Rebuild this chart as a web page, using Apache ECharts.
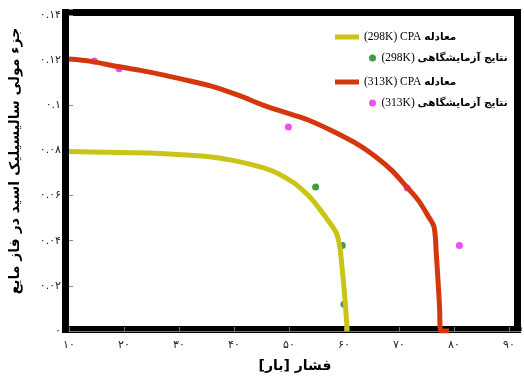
<!DOCTYPE html>
<html>
<head>
<meta charset="utf-8">
<script src="https://cdn.jsdelivr.net/npm/echarts@6/dist/echarts.min.js"></script>
<style>
  html, body { margin: 0; padding: 0; background: #fff; }
  #chart { width: 524px; height: 378px; }
</style>
</head>
<body>
<div id="chart"></div>
<script>
// Pressure [bar] vs. liquid-phase mole fraction of salicylic acid
const cpa298 = [
  [10, 0.0795], [16.8, 0.0792], [25.7, 0.0788], [34.7, 0.0774], [40, 0.0755],
  [45.4, 0.0723], [48, 0.0698], [50.8, 0.0658], [52.5, 0.0624], [54.3, 0.058],
  [56.7, 0.0504], [58.5, 0.044], [59.2, 0.038], [59.7, 0.027], [60.2, 0.0137], [60.6, 0]
];
const exp298 = [[54.85, 0.0638], [59.7, 0.0379], [60.0, 0.0118]];
const cpa313 = [
  [10, 0.1205], [14, 0.1195], [18.6, 0.1173], [23, 0.1155], [27.5, 0.1133],
  [32, 0.1108], [36.5, 0.1081], [41, 0.1043], [45.4, 0.1], [50, 0.0963],
  [53.5, 0.0935], [58, 0.0885], [62.8, 0.0823], [66, 0.0768], [68.7, 0.0712],
  [71, 0.065], [73.5, 0.058], [75.3, 0.051], [76.4, 0.046], [76.8, 0.034],
  [77.1, 0.0226], [77.4, 0.01], [77.6, 0], [79.1, 0]
];
const exp313 = [[14.6, 0.1196], [19.1, 0.1162], [49.9, 0.0904], [71.5, 0.0634], [81.0, 0.0379]];

const seriesNames = [
  '(298K) CPA معادله',
  '(298K) نتایج آزمایشگاهی',
  '(313K) CPA معادله',
  '(313K) نتایج آزمایشگاهی'
];
const xTicks = [10, 20, 30, 40, 50, 60, 70, 80, 90];
const yTicks = [0, 0.02, 0.04, 0.06, 0.08, 0.1, 0.12, 0.14];
const xTitle = 'فشار [بار]';
const yTitle = 'جزء مولی سالیسیلیک اسید در فاز مایع';

const FA_DIGITS = '۰۱۲۳۴۵۶۷۸۹';
function toFa(v) {
  return String(Number(v.toFixed(2))).replace(/[0-9]/g, d => FA_DIGITS[+d]);
}
function onTick(list, v) {
  return list.some(t => Math.abs(t - v) < 1e-9);
}
// Latin part in a serif face, Persian part in a bold face
function legendLabel(name) {
  const i = name.search(/[\u0600-\u06FF]/);
  return '{l|' + name.slice(0, i) + '}{p|' + name.slice(i) + '}';
}

const G = { left: 62, top: 9, right: 3, bottom: 46 };
const W = 524, H = 378;
const BAND = 7;

const C_YEL = '#c9c416', C_RED = '#d4370d', C_GRN = '#157f15', C_MAG = '#ee22ee';
const FONT = "'DejaVu Sans', sans-serif";
const legendText = {
  color: '#000', lineHeight: 16,
  rich: {
    l: { fontFamily: "'Liberation Serif', serif", fontSize: 11.5, color: '#000', lineHeight: 16 },
    p: { fontFamily: "'DejaVu Sans', sans-serif", fontWeight: 'bold', fontSize: 10.5, color: '#000', lineHeight: 16 }
  }
};
const titleStyle = { fontFamily: FONT, fontWeight: 'bold', fontSize: 14, color: '#000' };

const chart = echarts.init(document.getElementById('chart'), null, { renderer: 'canvas' });
chart.setOption({
  animation: false,
  backgroundColor: '#fff',
  grid: { left: G.left, top: G.top, right: G.right, bottom: G.bottom },
  graphic: [{
    type: 'rect', z: 0,
    shape: {
      x: G.left + BAND / 2, y: G.top + BAND / 2,
      width: W - G.left - G.right - BAND, height: H - G.top - G.bottom - BAND + 1
    },
    style: { fill: null, stroke: '#000', lineWidth: BAND }
  }],
  legend: [{
    data: [seriesNames[0], seriesNames[2]],
    orient: 'vertical', left: 330, top: 24,
    icon: 'rect', itemWidth: 24, itemHeight: 5, itemGap: 29,
    formatter: legendLabel, textStyle: legendText
  }, {
    data: [seriesNames[1], seriesNames[3]],
    orient: 'vertical', left: 364, top: 45,
    icon: 'circle', itemWidth: 8, itemHeight: 7, itemGap: 29,
    formatter: legendLabel, textStyle: legendText
  }],
  xAxis: {
    type: 'value', min: 10, max: 92.2, interval: 10, z: 1,
    name: xTitle, nameLocation: 'middle', nameGap: 28,
    nameTextStyle: titleStyle,
    splitLine: { show: false },
    axisLine: { lineStyle: { color: '#777', width: 1 } },
    axisTick: { inside: true, length: 4, lineStyle: { color: '#777' } },
    axisLabel: {
      margin: 9, fontSize: 11, color: '#222', fontFamily: FONT,
      formatter: v => onTick(xTicks, v) ? toFa(v) : ''
    }
  },
  yAxis: {
    type: 'value', min: 0, max: 0.1427, interval: 0.02, z: 1,
    name: yTitle, nameLocation: 'middle', nameGap: 47, nameRotate: 90,
    nameTextStyle: Object.assign({}, titleStyle, { padding: [0, 0, 0, 18] }),
    splitLine: { show: false },
    axisLine: { show: false },
    axisTick: { inside: true, length: 4, lineStyle: { color: '#888' } },
    axisLabel: {
      margin: 8, fontSize: 11, color: '#222', fontFamily: FONT,
      formatter: v => onTick(yTicks, v) ? toFa(v) : ''
    }
  },
  series: [
    { name: seriesNames[1], type: 'scatter', data: exp298, z: 2,
      symbol: 'circle', symbolSize: 7, itemStyle: { color: C_GRN } },
    { name: seriesNames[3], type: 'scatter', data: exp313, z: 2,
      symbol: 'circle', symbolSize: 7, itemStyle: { color: C_MAG } },
    { name: seriesNames[0], type: 'line', data: cpa298, z: 3, smooth: 0.3,
      showSymbol: false, itemStyle: { color: C_YEL },
      lineStyle: { color: C_YEL, width: 5 } },
    { name: seriesNames[2], type: 'line', data: cpa313, z: 3, smooth: 0.3,
      showSymbol: false, itemStyle: { color: C_RED },
      lineStyle: { color: C_RED, width: 5 } }
  ]
});
</script>
</body>
</html>
